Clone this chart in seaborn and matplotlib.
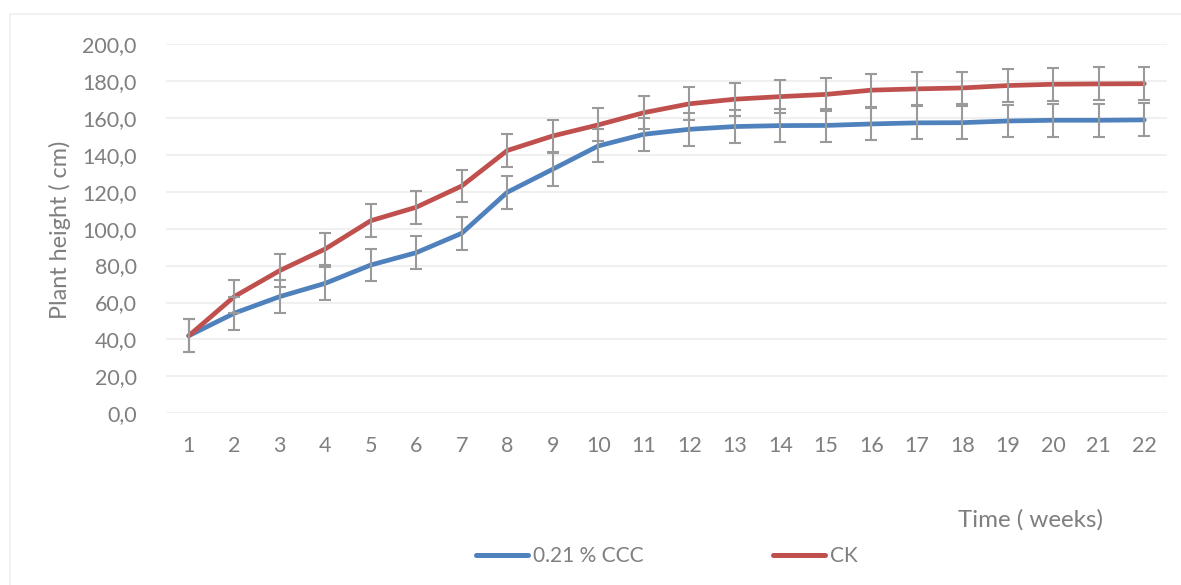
import matplotlib
matplotlib.use("Agg")
import matplotlib.pyplot as plt
import seaborn as sns
import pandas as pd
from matplotlib.patches import Rectangle
from matplotlib.lines import Line2D

# Weekly plant height (cm) with error of each mean
weeks = list(range(1, 23))
ccc_height = [42.0, 54.2, 63.2, 70.4, 80.3, 87.0, 97.5, 119.7, 132.2, 144.8, 151.1,
              153.8, 155.3, 155.8, 155.9, 156.7, 157.3, 157.4, 158.3, 158.7, 158.7, 158.9]
ck_height = [42.0, 63.2, 77.3, 89.0, 104.3, 111.6, 123.1, 142.3, 150.2, 156.2, 162.8,
             167.6, 170.1, 171.5, 172.7, 175.0, 175.7, 176.2, 177.5, 178.2, 178.4, 178.5]
ccc_err = [8.9] * 22
ck_err = [8.9] * 22

series_names = ["0.21 % CCC", "CK"]
series_colors = ["#4F81BD", "#C0504D"]
y_ticks = [0, 20, 40, 60, 80, 100, 120, 140, 160, 180, 200]

sns.set_theme(style="white")
plt.rcParams["font.family"] = ["Lato", "DejaVu Sans"]
text_color = "#7F7F7F"

df = pd.DataFrame({
    "week": weeks * 2,
    "height": ccc_height + ck_height,
    "err": ccc_err + ck_err,
    "group": [series_names[0]] * 22 + [series_names[1]] * 22,
})

fig = plt.figure(figsize=(11.81, 5.85), dpi=100)
ax = fig.add_axes([166 / 1181, 1 - 413.3 / 585, 1001 / 1181, 369.3 / 585])

# light chart-area frame
fig.patches.append(Rectangle((10 / 1181, -0.1), 1.2, 1 - 14 / 585 + 0.1,
                             transform=fig.transFigure, fill=False,
                             edgecolor="#EFEFEF", linewidth=1.2, zorder=0))

for name, color in zip(series_names, series_colors):
    sub = df[df["group"] == name]
    sns.lineplot(data=sub, x="week", y="height", color=color, linewidth=3.4,
                 ax=ax, errorbar=None, legend=False, zorder=3)
    ax.errorbar(sub["week"], sub["height"], yerr=sub["err"], fmt="none",
                ecolor="#9A9A9A", elinewidth=1.5, capsize=4.5, capthick=1.5,
                zorder=4)

ax.set_xlim(0.5, 22.5)
ax.set_ylim(0, 200)
ax.set_yticks(y_ticks)
ax.set_yticklabels([f"{v:.1f}".replace(".", ",") for v in y_ticks])
ax.set_xticks(weeks)
ax.set_xticklabels([str(w) for w in weeks])
ax.grid(axis="y", color="#F0F0F0", linewidth=1.4)
ax.grid(axis="x", visible=False)
for s in ax.spines.values():
    s.set_visible(False)
ax.tick_params(axis="both", length=0, colors=text_color, labelsize=15.5)
ax.tick_params(axis="y", pad=21)
ax.tick_params(axis="x", pad=16)
ax.set_xlabel("")
ax.set_ylabel("")

fig.text(60 / 1181, 1 - 230 / 585, "Plant height ( cm)", rotation=90,
         ha="center", va="center", color=text_color, fontsize=16.8)
fig.text(1103 / 1181, 1 - 520 / 585, "Time ( weeks)", ha="right",
         va="center", color=text_color, fontsize=17.4)

handles = [Line2D([0], [0], color=c, linewidth=3.6, solid_capstyle="round")
           for c in series_colors]
fig.legend(handles, series_names, loc="center", bbox_to_anchor=(667 / 1181, 1 - 556 / 585),
           ncol=2, frameon=False, fontsize=15, labelcolor=text_color,
           handlelength=2.5, handletextpad=0.25, columnspacing=6.2)

fig.savefig("out.png", dpi=100, facecolor="white")
